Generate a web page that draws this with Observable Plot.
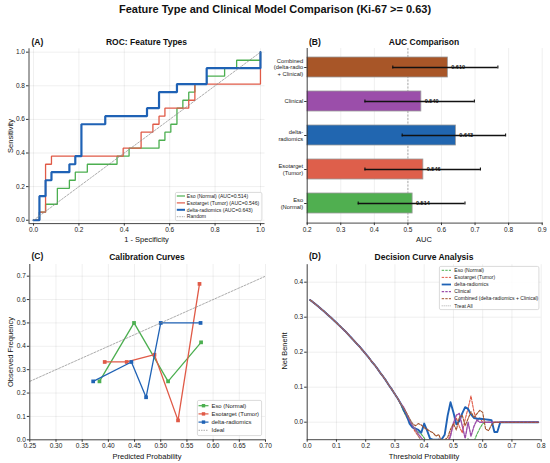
<!DOCTYPE html>
<html><head><meta charset="utf-8">
<script src="https://cdn.jsdelivr.net/npm/d3@7"></script>
<script src="https://cdn.jsdelivr.net/npm/@observablehq/plot@0.6"></script>
<style>
body{margin:0;background:#fff;font-family:"Liberation Sans",Arial,Helvetica,sans-serif;}
#root{position:relative;width:550px;height:463px;overflow:hidden;background:#fff}
.abs{position:absolute;white-space:nowrap;color:#111;line-height:1}
.panel{position:absolute}
</style></head><body><div id="root"></div>
<script>
// ================= DATA =================
// (A) ROC corner points: false positive rate / true positive rate
const rocEsoFpr = [0,0.026,0.026,0.053,0.053,0.105,0.105,0.158,0.158,0.184,0.184,0.237,0.237,0.368,0.368,0.421,0.421,0.553,0.553,0.579,0.579,0.605,0.605,0.632,0.632,0.658,0.658,0.684,0.684,0.711,0.711,0.763,0.763,0.842,0.842,0.895,0.895,1,1];
const rocEsoTpr = [0,0,0.048,0.048,0.095,0.095,0.190,0.190,0.238,0.238,0.286,0.286,0.333,0.333,0.381,0.381,0.429,0.429,0.476,0.476,0.524,0.524,0.571,0.571,0.667,0.667,0.714,0.714,0.762,0.762,0.810,0.810,0.857,0.857,0.905,0.905,0.952,0.952,1];
const rocTumFpr = [0,0.026,0.026,0.053,0.053,0.079,0.079,0.395,0.395,0.474,0.474,0.526,0.526,0.553,0.553,0.579,0.579,0.684,0.684,0.711,0.711,1,1];
const rocTumTpr = [0,0,0.048,0.048,0.333,0.333,0.381,0.381,0.429,0.429,0.524,0.524,0.571,0.571,0.619,0.619,0.667,0.667,0.714,0.714,0.810,0.810,1];
const rocDeltaFpr = [0,0.026,0.026,0.053,0.053,0.079,0.079,0.158,0.158,0.184,0.184,0.211,0.211,0.316,0.316,0.5,0.5,0.553,0.553,0.632,0.632,0.763,0.763,1,1];
const rocDeltaTpr = [0,0,0.143,0.143,0.238,0.238,0.286,0.286,0.333,0.333,0.381,0.381,0.571,0.571,0.619,0.619,0.667,0.667,0.762,0.762,0.810,0.810,0.905,0.905,1];
const rocRandom = [0, 1];
const rocTicks = [0, 0.2, 0.4, 0.6, 0.8, 1.0];

// (B) AUC comparison
const modelNames = ["Combined\n(delta-radio\n+ Clinical)", "Clinical", "delta-\nradiomics", "Esotarget\n(Tumor)", "Eso\n(Normal)"];
const aucValues = [0.619, 0.540, 0.643, 0.546, 0.514];
const ciLower = [0.455, 0.372, 0.483, 0.372, 0.352];
const ciUpper = [0.768, 0.698, 0.791, 0.716, 0.670];
const aucLabels = ["0.619", "0.540", "0.643", "0.546", "0.514"];
const barColors = ["#A85628", "#9B4EAA", "#2166B0", "#DE5F4B", "#50AF50"];
const aucTicks = [0.2, 0.3, 0.4, 0.5, 0.6, 0.7, 0.8, 0.9];
const aucRef = [0.5];

// (C) Calibration
const calEsoPred = [0.383, 0.449, 0.514, 0.577];
const calEsoObs  = [0.250, 0.500, 0.250, 0.417];
const calTumPred = [0.393, 0.435, 0.488, 0.533, 0.574];
const calTumObs  = [0.333, 0.333, 0.364, 0.083, 0.667];
const calDeltaPred = [0.371, 0.444, 0.472, 0.500, 0.576];
const calDeltaObs  = [0.250, 0.333, 0.182, 0.500, 0.500];
const calIdeal = [0, 1];
const calXTicks = [0.25, 0.30, 0.35, 0.40, 0.45, 0.50, 0.55, 0.60, 0.65, 0.70];
const calYTicks = [0, 0.1, 0.2, 0.3, 0.4, 0.5, 0.6, 0.7];

// (D) Decision curves
const thresholds = [0.01,0.02,0.03,0.04,0.05,0.06,0.07,0.08,0.09,0.10,
  0.11,0.12,0.13,0.14,0.15,0.16,0.17,0.18,0.19,0.20,
  0.21,0.22,0.23,0.24,0.25,0.26,0.27,0.28,0.29,0.30,
  0.31,0.32,0.33,0.34,0.35,0.36,0.37,0.38,0.39,0.40,
  0.41,0.42,0.43,0.44,0.45,0.46,0.47,0.48,0.49,0.50,
  0.51,0.52,0.53,0.54,0.55,0.56,0.57,0.58,0.59,0.60,
  0.61,0.62,0.63,0.64,0.65,0.66,0.67,0.68,0.69,0.70,
  0.71,0.72,0.73,0.74,0.75,0.76,0.77,0.78,0.79];
// shared part (0.01 - 0.31): all models equal Treat All here
const nbShared = [0.349,0.343,0.336,0.329,0.322,0.315,0.307,0.300,0.292,0.284,
  0.276,0.268,0.260,0.251,0.242,0.233,0.224,0.215,0.205,0.195,
  0.185,0.174,0.164,0.153,0.141,0.130,0.118,0.105,0.093,0.080,0.067];
const treatAllTail = [0.053,0.039,0.024,0.009,-0.006,-0.022,-0.039,-0.056,-0.074,-0.092,-0.111];
// tails for thresholds 0.32 - 0.79
const esoTail = [0.050,0.030,0.014,0.000,-0.012,-0.022,-0.028,-0.034,-0.045,-0.060,
  -0.080,-0.090,-0.085,-0.090,-0.080,-0.085,-0.075,-0.070,-0.080,-0.065,
  -0.070,-0.055,-0.070,-0.046,-0.065,-0.055,-0.035,-0.018,-0.004,0.000,
  0,0,0,0,0,0,0,0,0,0, 0,0,0,0,0,0,0,0];
const tumTail = [0.052,0.034,0.016,0.002,-0.014,-0.028,-0.040,-0.052,-0.065,-0.070,
  -0.060,-0.075,-0.068,-0.048,-0.062,-0.078,-0.058,-0.032,-0.008,0.012,
  -0.012,-0.030,0.008,0.040,0.075,0.030,0.004,0.012,0.000,0,
  0,0,0,0,0,0,0,0,0,0, 0,0,0,0,0,0,0,0];
const deltaTail = [0.053,0.035,0.020,-0.004,-0.015,-0.018,-0.022,-0.030,-0.004,-0.024,
  -0.047,-0.050,-0.050,-0.050,-0.049,-0.036,0.018,0.057,0.028,-0.006,
  0.003,0.025,0.043,0.038,0.022,0.012,0.010,0.010,0.009,0.008,
  0.007,0.006,-0.028,-0.028,0.000,0,0,0,0,0, 0,0,0,0,0,0,0,0];
const clinicalTail = [0.053,0.043,0.024,0.006,-0.010,-0.020,-0.034,-0.044,-0.055,-0.068,
  -0.075,-0.080,-0.072,-0.085,-0.078,-0.070,-0.062,-0.040,-0.002,0.020,
  0.025,-0.010,-0.046,0.000,-0.040,-0.012,0.006,0.000,0,0,
  0,0,0,0,0,0,0,0,0,0, 0,0,0,0,0,0,0,0];
const combinedTail = [0.052,0.040,0.026,0.010,-0.004,-0.010,-0.004,-0.008,-0.016,-0.020,
  -0.026,-0.030,-0.040,-0.035,-0.058,-0.050,-0.044,-0.020,-0.004,-0.022,
  0.014,0.020,-0.010,0.010,0.030,0.014,0.024,0.034,0.028,-0.020,
  -0.024,-0.008,0.000,0,0,0,0,0,0,0, 0,0,0,0,0,0,0,0];
const dcaXTicks = [0, 0.1, 0.2, 0.3, 0.4, 0.5, 0.6, 0.7, 0.8];
const dcaYTicks = [0, 0.1, 0.2, 0.3, 0.4];

// colours
const COL = {eso:"#4CAF50", tum:"#E05A47", delta:"#1F62B5", clin:"#9B4EAA", comb:"#A0522D", gray:"#999999"};

// ================= DRAWING =================
const FONT = '"Liberation Sans", Arial, Helvetica, sans-serif';
const root = document.getElementById("root");
const NS = "http://www.w3.org/2000/svg";

function txt(s, x, y, size, o = {}) {
  const d = document.createElement("div");
  d.className = "abs";
  d.textContent = s;
  d.style.fontSize = size + "px";
  if (o.bold) d.style.fontWeight = "bold";
  d.style.left = x + "px"; d.style.top = y + "px";
  const ax = o.start ? "0" : "-50%";
  d.style.transform = `translate(${ax},-50%)` + (o.rotate ? " rotate(-90deg)" : "");
  root.appendChild(d);
}
function mount(node, left, top) {
  const w = document.createElement("div");
  w.className = "panel"; w.style.left = left + "px"; w.style.top = top + "px";
  w.appendChild(node); root.appendChild(w);
}
function el(tag, attrs, parent) {
  const e = document.createElementNS(NS, tag);
  for (const k in attrs) if (attrs[k] != null) e.setAttribute(k, attrs[k]);
  if (parent) parent.appendChild(e);
  return e;
}
function legend(left, top, w, h, entries, o) {
  const svg = el("svg", {width: w, height: h});
  svg.style.position = "absolute"; svg.style.left = left + "px"; svg.style.top = top + "px"; svg.style.overflow = "visible";
  el("rect", {x: 0.4, y: 0.4, width: w - 0.8, height: h - 0.8, rx: 1.5, fill: "#fff", "fill-opacity": 0.85, stroke: "#d0d0d0", "stroke-width": 0.8}, svg);
  entries.forEach((e, i) => {
    const cy = o.y0 + o.step * i;
    el("line", {x1: o.lx0, x2: o.lx1, y1: cy, y2: cy, stroke: e.color, "stroke-width": e.width, "stroke-dasharray": e.dash, "stroke-opacity": e.opacity}, svg);
    if (e.marker) {
      const s = o.ms;
      el("rect", {x: (o.lx0 + o.lx1) / 2 - s / 2, y: cy - s / 2, width: s, height: s, fill: e.color}, svg);
    }
    const t = el("text", {x: o.tx, y: cy, dy: "0.35em", "font-size": o.size, "font-family": FONT, fill: "#222"}, svg);
    t.textContent = e.label;
  });
  root.appendChild(svg);
}

const baseStyle = {fontFamily: FONT, fontSize: "6.5px", color: "#222", background: "transparent", overflow: "visible"};
const gridStyle = {stroke: "#000", strokeOpacity: 0.09, strokeWidth: 0.7};
const spine = {stroke: "#333", strokeWidth: 0.9};
const axStyle = {tickSize: 2.5, tickPadding: 1.5, stroke: "#333", fill: "#222", label: null};
const pts = (xs, ys) => xs.map((x, i) => ({x, y: ys[i]}));
const f1 = d3.format(".1f"), f2 = d3.format(".2f");

// ---- (A) ROC ----
const plotA = Plot.plot({
  width: 275, height: 215, marginLeft: 28.5, marginRight: 10.5, marginTop: 18.3, marginBottom: 21.9,
  style: baseStyle,
  x: {domain: [-0.02, 1.02]}, y: {domain: [-0.02, 1.02]},
  marks: [
    Plot.gridX(rocTicks, gridStyle), Plot.gridY(rocTicks, gridStyle),
    Plot.line(pts(rocEsoFpr, rocEsoTpr), {x: "x", y: "y", stroke: COL.eso, strokeWidth: 1.3, strokeLinejoin: "miter"}),
    Plot.line(pts(rocTumFpr, rocTumTpr), {x: "x", y: "y", stroke: COL.tum, strokeWidth: 1.3, strokeLinejoin: "miter"}),
    Plot.line(pts(rocDeltaFpr, rocDeltaTpr), {x: "x", y: "y", stroke: COL.delta, strokeWidth: 2.2, strokeLinejoin: "miter"}),
    Plot.line(pts(rocRandom, rocRandom), {x: "x", y: "y", stroke: "#888", strokeWidth: 0.7, strokeDasharray: "2,1.5"}),
    Plot.ruleX([-0.02], spine), Plot.ruleY([-0.02], spine),
    Plot.axisX(rocTicks, {...axStyle, tickFormat: f1}),
    Plot.axisY(rocTicks, {...axStyle, tickFormat: f1})
  ]
});
mount(plotA, 0, 30);

// ---- (B) AUC bars ----
const barData = modelNames.map((n, i) => ({n, auc: aucValues[i], lo: ciLower[i], hi: ciUpper[i], lab: aucLabels[i]}));
const plotB = Plot.plot({
  width: 275, height: 215, marginLeft: 31.7, marginRight: 8.3, marginTop: 18, marginBottom: 22.4,
  style: baseStyle,
  x: {domain: [0.2, 0.9]},
  y: {domain: modelNames, paddingInner: 0.4, paddingOuter: 0.23},
  color: {domain: modelNames, range: barColors},
  marks: [
    Plot.gridX(aucTicks, gridStyle),
    Plot.ruleX(aucRef, {stroke: "#999", strokeWidth: 0.8, strokeDasharray: "2,1.5"}),
    Plot.barX(barData, {x: "auc", y: "n", fill: "n", stroke: "#9a9a9a", strokeWidth: 0.8, clip: true}),
    Plot.ruleY(barData, {y: "n", x1: "lo", x2: "hi", stroke: "#111", strokeWidth: 1.3}),
    Plot.tickX(barData, {x: "lo", y: "n", stroke: "#111", strokeWidth: 1.1, insetTop: 8.6, insetBottom: 8.6}),
    Plot.tickX(barData, {x: "hi", y: "n", stroke: "#111", strokeWidth: 1.1, insetTop: 8.6, insetBottom: 8.6}),
    Plot.text(barData, {x: "auc", y: "n", text: "lab", dx: 3.4, textAnchor: "start", fontWeight: "bold", fontSize: 5.5, fill: "#111"}),
    Plot.frame({anchor: "left", ...spine}),
    Plot.frame({anchor: "bottom", ...spine}),
    Plot.axisX(aucTicks, {...axStyle, tickFormat: f1}),
    Plot.axisY({...axStyle, fontSize: 5.8, lineHeight: 1.05})
  ]
});
mount(plotB, 275, 30);

// ---- (C) Calibration ----
const plotC = Plot.plot({
  width: 275, height: 218, marginLeft: 29.3, marginRight: 10, marginTop: 19, marginBottom: 23.7,
  style: baseStyle,
  x: {domain: [0.25, 0.70]}, y: {domain: [0, 0.75]},
  marks: [
    Plot.gridX(calXTicks, gridStyle), Plot.gridY(calYTicks, gridStyle),
    Plot.line(pts(calEsoPred, calEsoObs), {x: "x", y: "y", stroke: COL.eso, strokeWidth: 1.3}),
    Plot.dot(pts(calEsoPred, calEsoObs), {x: "x", y: "y", symbol: "square", r: 2.1, fill: COL.eso}),
    Plot.line(pts(calTumPred, calTumObs), {x: "x", y: "y", stroke: COL.tum, strokeWidth: 1.3}),
    Plot.dot(pts(calTumPred, calTumObs), {x: "x", y: "y", symbol: "square", r: 2.1, fill: COL.tum}),
    Plot.line(pts(calDeltaPred, calDeltaObs), {x: "x", y: "y", stroke: COL.delta, strokeWidth: 1.3}),
    Plot.dot(pts(calDeltaPred, calDeltaObs), {x: "x", y: "y", symbol: "square", r: 2.1, fill: COL.delta}),
    Plot.line(pts(calIdeal, calIdeal), {x: "x", y: "y", stroke: "#888", strokeWidth: 0.7, strokeDasharray: "2,1.5", clip: true}),
    Plot.ruleX([0.25], spine), Plot.ruleY([0], spine),
    Plot.axisX(calXTicks, {...axStyle, tickFormat: f2}),
    Plot.axisY(calYTicks, {...axStyle, tickFormat: f1})
  ]
});
mount(plotC, 0, 245);

// ---- (D) Decision curves ----
const series = [
  {tail: esoTail, color: COL.eso, w: 1.1, dash: "2.6,1.3"},
  {tail: tumTail, color: COL.tum, w: 1.1, dash: "2.6,1.3"},
  {tail: deltaTail, color: COL.delta, w: 1.9, dash: null},
  {tail: clinicalTail, color: COL.clin, w: 1.4, dash: "2.6,1.3"},
  {tail: combinedTail, color: COL.comb, w: 1.1, dash: "2.6,1.3"}
];
const dcaMarks = series.map(s => {
  const nb = nbShared.concat(s.tail);
  return Plot.line(pts(thresholds, nb), {x: "x", y: "y", stroke: s.color, strokeWidth: s.w, strokeDasharray: s.dash, clip: true});
});
const treatAll = nbShared.concat(treatAllTail);
const plotD = Plot.plot({
  width: 275, height: 218, marginLeft: 31.7, marginRight: 9.3, marginTop: 19.2, marginBottom: 23.8,
  style: baseStyle,
  x: {domain: [0, 0.8]}, y: {domain: [-0.05, 0.45]},
  marks: [
    Plot.gridX(dcaXTicks, gridStyle), Plot.gridY(dcaYTicks, gridStyle),
    ...dcaMarks,
    Plot.line(pts(thresholds.slice(0, treatAll.length), treatAll), {x: "x", y: "y", stroke: "#888", strokeWidth: 0.8, strokeDasharray: "1,1.2", clip: true}),
    Plot.ruleX([0], spine), Plot.ruleY([-0.05], spine),
    Plot.axisX(dcaXTicks, {...axStyle, tickFormat: f1}),
    Plot.axisY(dcaYTicks, {...axStyle, tickFormat: f1})
  ]
});
mount(plotD, 275, 245);

// ---- titles and labels ----
txt("Feature Type and Clinical Model Comparison (Ki-67 >= 0.63)", 275, 8.5, 11, {bold: true});
txt("(A)", 31.5, 41.5, 8.5, {bold: true, start: true});
txt("ROC: Feature Types", 146.5, 42, 8.5, {bold: true});
txt("(B)", 309, 41.5, 8.5, {bold: true, start: true});
txt("AUC Comparison", 424, 42, 8.5, {bold: true});
txt("(C)", 31.5, 255.5, 8.5, {bold: true, start: true});
txt("Calibration Curves", 147, 256.5, 8.5, {bold: true});
txt("(D)", 309, 255.5, 8.5, {bold: true, start: true});
txt("Decision Curve Analysis", 424, 256.5, 8.5, {bold: true});

txt("Sensitivity", 10.5, 135.5, 7.5, {rotate: true});
txt("1 - Specificity", 146.5, 239.5, 7.5);
txt("AUC", 424, 239.5, 7.5);
txt("Observed Frequency", 10.5, 351.5, 7.5, {rotate: true});
txt("Predicted Probability", 147, 456.5, 7.5);
txt("Net Benefit", 285, 350.5, 7.5, {rotate: true});
txt("Threshold Probability", 424, 456.5, 7.5);

// ---- legends ----
legend(175, 191.7, 87.3, 29, [
  {label: "Eso (Normal) (AUC=0.514)", color: COL.eso, width: 1.2},
  {label: "Esotarget (Tumor) (AUC=0.546)", color: COL.tum, width: 1.2},
  {label: "delta-radiomics (AUC=0.643)", color: COL.delta, width: 2},
  {label: "Random", color: "#888", width: 0.7, dash: "1.5,1"}
], {y0: 4.0, step: 6.9, lx0: 1.8, lx1: 10, tx: 11.8, size: 5.1});

legend(196.7, 400, 65, 36, [
  {label: "Eso (Normal)", color: COL.eso, width: 1.2, marker: true},
  {label: "Esotarget (Tumor)", color: COL.tum, width: 1.2, marker: true},
  {label: "delta-radiomics", color: COL.delta, width: 1.2, marker: true},
  {label: "Ideal", color: "#888", width: 0.7, dash: "1.5,1"}
], {y0: 5.7, step: 8.2, lx0: 1.5, lx1: 11.5, tx: 14.5, size: 5.9, ms: 3.4});

legend(439, 266, 100.3, 44, [
  {label: "Eso (Normal)", color: COL.eso, width: 1, dash: "2.4,1.2"},
  {label: "Esotarget (Tumor)", color: COL.tum, width: 1, dash: "2.4,1.2"},
  {label: "delta-radiomics", color: COL.delta, width: 1.8},
  {label: "Clinical", color: COL.clin, width: 1.4, dash: "2.4,1.2"},
  {label: "Combined (delta-radiomics + Clinical)", color: COL.comb, width: 1, dash: "2.4,1.2"},
  {label: "Treat All", color: "#888", width: 0.7, dash: "1,1"}
], {y0: 4.3, step: 7.1, lx0: 2.7, lx1: 12, tx: 15.3, size: 5.05});
</script></body></html>
